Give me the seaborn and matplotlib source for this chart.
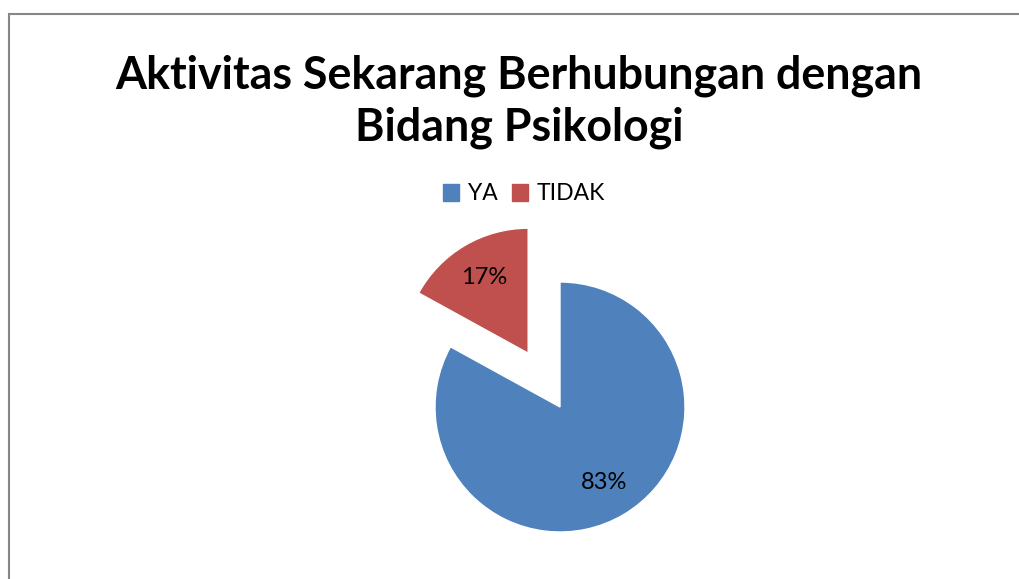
import matplotlib
matplotlib.use("Agg")
import matplotlib.pyplot as plt
import matplotlib.patches as mpatches
import seaborn as sns

sns.set_theme(style="white")
plt.rcParams['font.family'] = ['Lato', 'DejaVu Sans']
plt.rcParams['text.color'] = 'black'

# data
labels = ['YA', 'TIDAK']
values = [83, 17]
colors = ['#4F81BD', '#C0504D']
explode = [0, 0.5]
title = 'Aktivitas Sekarang Berhubungan dengan\nBidang Psikologi'

W, H = 1019, 579
fig = plt.figure(figsize=(W / 100, H / 100), dpi=100)
fig.patch.set_facecolor('white')

# chart border (only top and left visible)
border = mpatches.Rectangle((8.5 / W, -0.1), 1.2, (H - 13.5) / H + 0.1,
                            transform=fig.transFigure, fill=False,
                            edgecolor='#868686', linewidth=1.5)
fig.patches.append(border)

# pie axes: 1 data unit = 125 px, centre at (560, 407)
R = 125
cx, cy = 560, H - 407
xl, xr, yb, yt = -1.2, 1.2, -1.1, 1.7
ax = fig.add_axes([(cx + xl * R) / W, (cy + yb * R) / H,
                   (xr - xl) * R / W, (yt - yb) * R / H])
wedges, texts, autotexts = ax.pie(values, colors=colors, explode=explode,
                                  startangle=90, counterclock=False,
                                  autopct='%d%%', pctdistance=0.7,
                                  textprops={'fontsize': 17, 'color': 'black'})
ax.set_xlim(xl, xr)
ax.set_ylim(yb, yt)
ax.set_aspect('auto')
ax.axis('off')

fig.text(519 / W, 1 - 102 / H, title, ha='center', va='center',
         fontsize=32.2, fontweight='bold', linespacing=1.28, color='black')

handles = [mpatches.Patch(color=c, label=l) for c, l in zip(colors, labels)]
fig.legend(handles=handles, loc='center', bbox_to_anchor=(524 / W, 1 - 194 / H),
           ncol=2, frameon=False, fontsize=16.5, handlelength=0.7,
           handleheight=0.7, handletextpad=0.4, columnspacing=0.6,
           labelcolor='black')

fig.savefig('out.png', dpi=100)
